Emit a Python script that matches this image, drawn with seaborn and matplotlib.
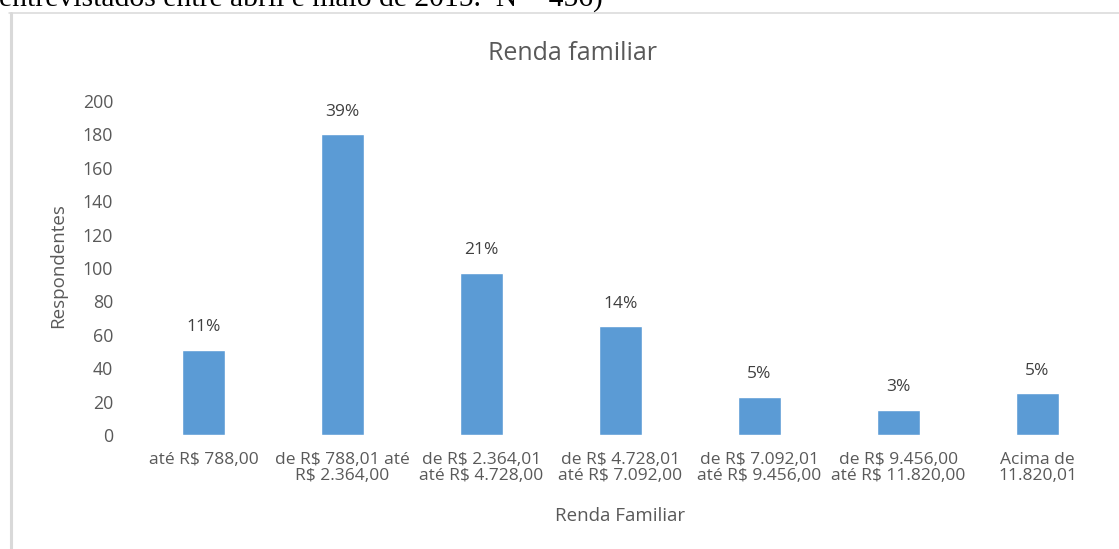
import matplotlib
matplotlib.use("Agg")
import matplotlib.pyplot as plt
from matplotlib.lines import Line2D
import seaborn as sns
import pandas as pd

categories = [
    "até R$ 788,00",
    "de R$ 788,01 até\nR$ 2.364,00",
    "de R$ 2.364,01\naté R$ 4.728,00",
    "de R$ 4.728,01\naté R$ 7.092,00",
    "de R$ 7.092,01\naté R$ 9.456,00",
    "de R$ 9.456,00\naté R$ 11.820,00",
    "Acima de\n11.820,01",
]
respondentes = [51, 180, 97, 65, 23, 15, 25]
percent_labels = ["11%", "39%", "21%", "14%", "5%", "3%", "5%"]
yticks = [0, 20, 40, 60, 80, 100, 120, 140, 160, 180, 200]
title = "Renda familiar"
xlabel = "Renda Familiar"
ylabel = "Respondentes"
caption = "entrevistados entre abril e maio de 2015.  N = 456)"

sns.set_theme(style="white")
plt.rcParams['font.family'] = ['Open Sans', 'DejaVu Sans']

W, H = 1119, 549
fig = plt.figure(figsize=(W / 100, H / 100), dpi=100)
fig.patch.set_facecolor("white")

ax = fig.add_axes([134 / W, 1 - 435 / H, (1107 - 134) / W, (435 - 101) / H])
df = pd.DataFrame({"cat": categories, "val": respondentes})
sns.barplot(data=df, x="cat", y="val", color="#5B9BD5", width=0.31,
            saturation=1, ax=ax)
ax.set_xlim(-0.5, len(categories) - 0.5)
ax.set_ylim(0, 200)
ax.set_yticks(yticks)
for s in ax.spines.values():
    s.set_visible(False)

ax.tick_params(axis='y', length=0, pad=15, labelsize=12.8, colors='#595959')
ax.tick_params(axis='x', length=0, pad=12, labelsize=12.5, colors='#595959')
for lbl in ax.get_xticklabels():
    lbl.set_linespacing(1.05)

for i, (v, p) in enumerate(zip(respondentes, percent_labels)):
    ax.annotate(p, (i, v), xytext=(0, 10.5), textcoords='offset points',
                ha='center', va='bottom', fontsize=12.5, color='#404040')

ax.set_xlabel(xlabel, fontsize=13.5, color='#595959', va='center')
ax.xaxis.set_label_coords(0.5, (435 - 516) / (435 - 101))
ax.set_ylabel(ylabel, fontsize=13.5, color='#595959', va='center')
ax.yaxis.set_label_coords((58 - 134) / (1107 - 134), (435 - 266) / (435 - 101))

fig.text(572 / W, 1 - 54 / H, title, ha='center', va='center',
         fontsize=18, color='#595959')

# chart frame
fig.add_artist(Line2D([10.5 / W, 10.5 / W], [0, 1 - 12.5 / H],
                      transform=fig.transFigure, color='#D9D9D9', lw=2.2))
fig.add_artist(Line2D([9 / W, 1.0], [1 - 12.5 / H, 1 - 12.5 / H],
                      transform=fig.transFigure, color='#D9D9D9', lw=1.1))

fig.text(-1 / W, 1 - 6 / H, caption, ha='left', va='baseline',
         fontsize=21.3, color='black', family=['Liberation Serif'])

fig.savefig("out.png", dpi=100)
